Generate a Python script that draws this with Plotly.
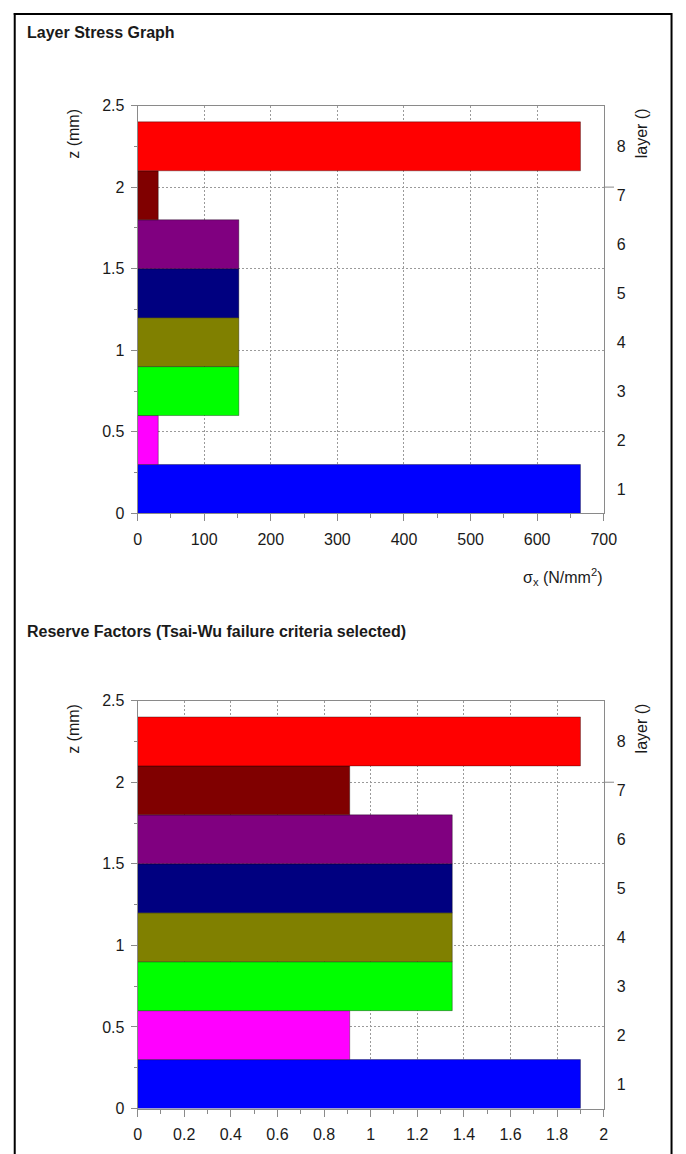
import plotly.graph_objects as go

# ---- data ----
layers = [1, 2, 3, 4, 5, 6, 7, 8]
z_bottom = [0.0, 0.3, 0.6, 0.9, 1.2, 1.5, 1.8, 2.1]
thickness = [0.3, 0.3, 0.3, 0.3, 0.3, 0.3, 0.3, 0.3]
stress_sx = [665, 31, 152, 152, 152, 152, 31, 665]
reserve_factor = [1.90, 0.91, 1.35, 1.35, 1.35, 1.35, 0.91, 1.90]
layer_colors = ["#0000FF", "#FF00FF", "#00FF00", "#808000",
                "#000080", "#800080", "#800000", "#FF0000"]
stress_xticks = [0, 100, 200, 300, 400, 500, 600, 700]
rf_xticks = [0, 0.2, 0.4, 0.6, 0.8, 1, 1.2, 1.4, 1.6, 1.8, 2]
z_ticks = [0, 0.5, 1, 1.5, 2, 2.5]
title1 = "Layer Stress Graph"
title2 = "Reserve Factors (Tsai-Wu failure criteria selected)"

W, H = 686, 1154
FONT = "Liberation Sans, Arial, sans-serif"
TXT = "#1a1a1a"
GRID = "#9a9a9a"
AXL = "#8a8a8a"

z_center = [b + t / 2 for b, t in zip(z_bottom, thickness)]

def px(x):
    return x / W

def py(y):
    return 1 - y / H

fig = go.Figure()

for xs, xa, ya, ya_r in [(stress_sx, "x", "y", "y2"), (reserve_factor, "x2", "y3", "y4")]:
    fig.add_trace(go.Bar(
        orientation="h", y=z_center, x=xs, width=thickness,
        marker=dict(color=layer_colors, line=dict(color="rgba(0,0,0,0.35)", width=1)),
        xaxis=xa, yaxis=ya, hoverinfo="skip", showlegend=False))
    # invisible trace so the right-hand "layer" axis is drawn
    fig.add_trace(go.Scatter(
        x=xs, y=z_center, mode="markers", marker=dict(opacity=0, size=1),
        xaxis=xa, yaxis=ya_r, hoverinfo="skip", showlegend=False))

xdom = [px(137), px(615)]
y1dom = [py(513), py(99)]
y2dom = [py(1117), py(703)]

tickfont = dict(family=FONT, size=16, color=TXT)

def xaxis(rng, ticks, minor_dt, anchor):
    return dict(domain=xdom, range=rng, anchor=anchor,
                tickmode="array", tickvals=ticks, ticktext=[f"{t:g}" for t in ticks],
                ticks="outside", ticklen=7, tickcolor=AXL,
                minor=dict(ticks="outside", ticklen=4, dtick=minor_dt, tickcolor=AXL, showgrid=False),
                showgrid=True, gridcolor=GRID, griddash="2px,2px", gridwidth=1,
                showline=True, linecolor=AXL, linewidth=1, mirror=True,
                zeroline=False, tickfont=tickfont, ticklabelstandoff=4, fixedrange=True)

def yaxis(dom, anchor):
    return dict(domain=dom, range=[0, 2.5], anchor=anchor,
                tickmode="array", tickvals=z_ticks, ticktext=[f"{t:g}" for t in z_ticks],
                ticks="outside", ticklen=6, tickcolor=AXL,
                minor=dict(ticks="outside", ticklen=3, dtick=0.25, tickcolor=AXL, showgrid=False),
                showgrid=True, gridcolor=GRID, griddash="2px,2px", gridwidth=1,
                showline=True, linecolor=AXL, linewidth=1, mirror=True,
                zeroline=False, tickfont=tickfont, ticklabelstandoff=3, fixedrange=True)

def yright(dom, anchor, over):
    return dict(domain=dom, range=[0, 2.5], anchor=anchor, overlaying=over, side="right",
                tickmode="array", tickvals=z_center, ticktext=[str(l) for l in layers],
                ticks="", showgrid=False, showline=False, zeroline=False,
                tickfont=tickfont, ticklabelstandoff=12, fixedrange=True)

fig.update_layout(
    width=W, height=H,
    margin=dict(l=0, r=0, t=0, b=0),
    paper_bgcolor="white", plot_bgcolor="white",
    barmode="overlay",
    xaxis=xaxis([0, 700], stress_xticks, 50, "y"),
    yaxis=yaxis(y1dom, "x"),
    yaxis2=yright(y1dom, "x", "y"),
    xaxis2=xaxis([0, 2], rf_xticks, 0.1, "y3"),
    yaxis3=yaxis(y2dom, "x2"),
    yaxis4=yright(y2dom, "x2", "y3"),
)

ann = []
for ttl, yc in [(title1, 25), (title2, 633)]:
    ann.append(dict(text="<b>%s</b>" % ttl, x=px(22), y=py(yc), xref="paper", yref="paper",
                    xanchor="left", yanchor="middle", showarrow=False,
                    font=dict(family=FONT, size=16, color=TXT)))
for top in [100, 704]:
    ann.append(dict(text="z (mm)", x=px(71), y=py(top), xref="paper", yref="paper",
                    xanchor="center", yanchor="top", textangle=-90, showarrow=False,
                    font=dict(family=FONT, size=16, color=TXT)))
    ann.append(dict(text="layer ()", x=px(654), y=py(top), xref="paper", yref="paper",
                    xanchor="center", yanchor="top", textangle=-90, showarrow=False,
                    font=dict(family=FONT, size=16, color=TXT)))
ann.append(dict(text="σ<sub>x</sub> (N/mm<sup>2</sup>)", x=px(615), y=py(577), xref="paper", yref="paper",
                xanchor="right", yanchor="middle", showarrow=False,
                font=dict(family=FONT, size=16, color=TXT)))
fig.update_layout(annotations=ann)

shapes = []
# small tick on right axis at z = 2
for xd, yr in [("x domain", "y"), ("x2 domain", "y3")]:
    shapes.append(dict(type="line", xref=xd, yref=yr, x0=1, x1=1.022, y0=2, y1=2,
                       line=dict(color=AXL, width=1)))
# outer frame of the screenshot
shapes.append(dict(type="line", xref="paper", yref="paper", x0=px(11), x1=px(11), y0=py(5), y1=-0.01,
                   line=dict(color="black", width=2)))
shapes.append(dict(type="line", xref="paper", yref="paper", x0=px(10), x1=px(685), y0=py(6), y1=py(6),
                   line=dict(color="black", width=2)))
shapes.append(dict(type="line", xref="paper", yref="paper", x0=px(684.5), x1=px(684.5), y0=py(5), y1=-0.01,
                   line=dict(color="black", width=2)))
fig.update_layout(shapes=shapes)

fig.write_html("out.html", config={"displayModeBar": False})
